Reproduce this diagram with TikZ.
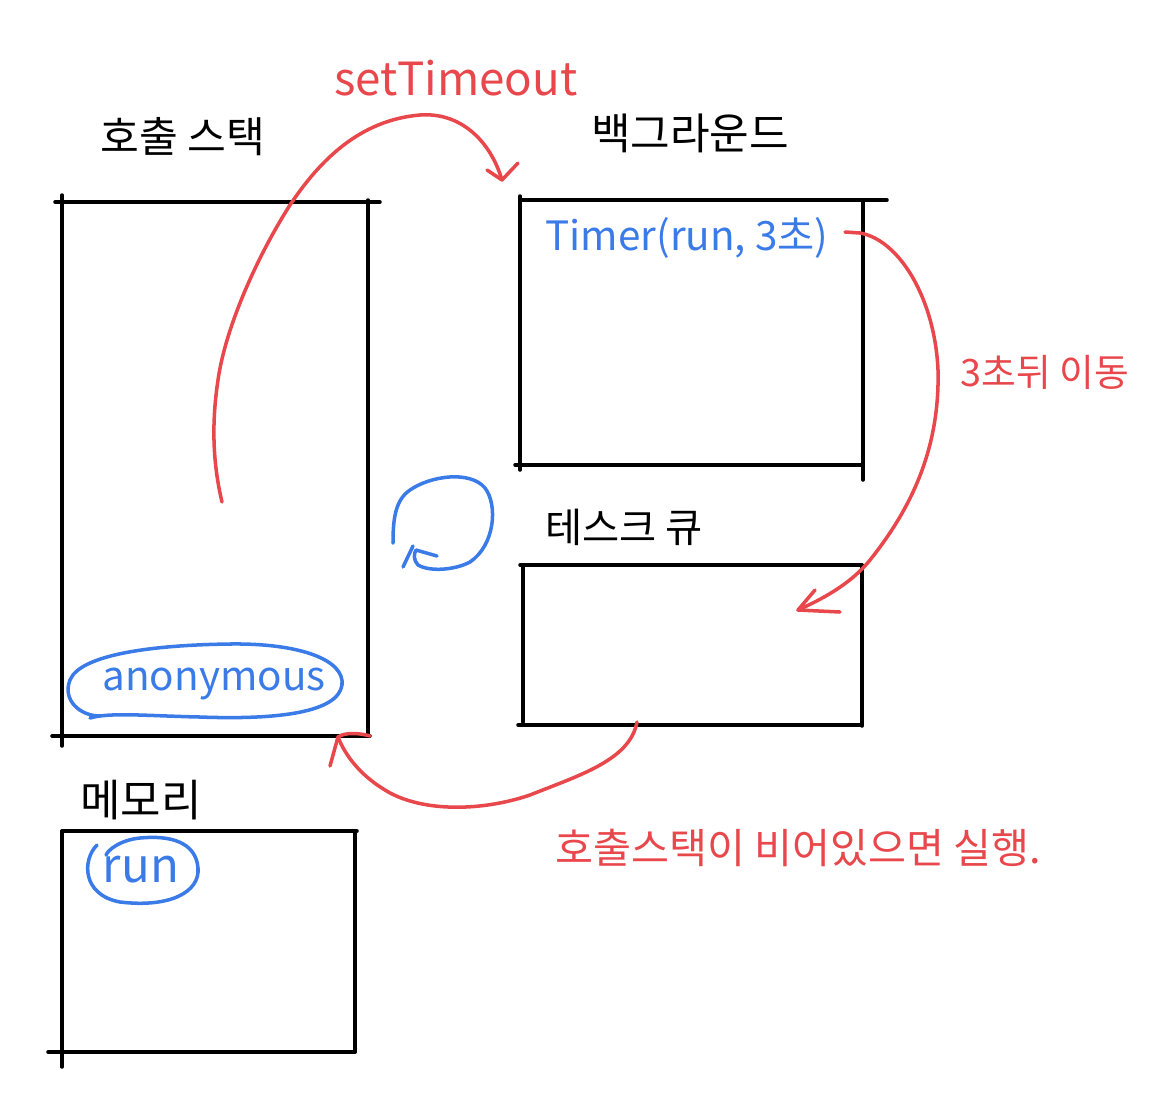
\documentclass[tikz,border=0pt]{standalone}
\usepackage{fontspec}
\setmainfont{Noto Sans CJK KR}
\begin{document}
\begin{tikzpicture}[x=0.02cm,y=-0.02cm,
  ink/.style={line width=2pt,line cap=round,line join=round},
  blk/.style={ink,black},
  redl/.style={ink,draw={rgb,255:red,232;green,71;blue,75}},
  bluel/.style={ink,draw={rgb,255:red,59;green,123;blue,232}},
  title/.style={text=black},
  rtext/.style={text={rgb,255:red,232;green,71;blue,75}},
  btext/.style={text={rgb,255:red,59;green,123;blue,232}}]
\useasboundingbox (0,0) rectangle (1170,1110);

% call stack box
\draw[blk] (55,202) -- (380,202);
\draw[blk] (62,195) -- (62,746);
\draw[blk] (368,200) -- (368,735);
\draw[blk] (52,736) -- (370,736);
\node[title,font=\fontsize{24}{28}\selectfont] (cs) at (183,137) {호출 스택};

% background box
\draw[blk] (520,200) -- (887,200);
\draw[blk] (520,196) -- (520,470);
\draw[blk] (863,202) -- (863,480);
\draw[blk] (515,465) -- (863,465);
\node[title,font=\fontsize{24.5}{28}\selectfont] (bg) at (690,133) {백그라운드};

% task queue box
\draw[blk] (520,565) -- (862,565);
\draw[blk] (523,565) -- (523,722);
\draw[blk] (862,565) -- (862,726);
\draw[blk] (518,725) -- (862,725);
\node[title,font=\fontsize{23}{27}\selectfont] (tq) at (624,527) {테스크 큐};

% memory box
\draw[blk] (62,831) -- (357,831);
\draw[blk] (62,831) -- (62,1067);
\draw[blk] (355,831) -- (355,1052);
\draw[blk] (48,1052) -- (355,1052);
\node[title,font=\fontsize{25}{29}\selectfont] (mem) at (141,800) {메모리};

% anonymous
\node[btext,font=\fontsize{23}{27}\selectfont] (anon) at (214,684) {anonymous};
\draw[bluel] (100,716) .. controls (80,716) and (62,700) .. (70,680)
  .. controls (80,655) and (150,645) .. (230,644)
  .. controls (300,643) and (345,660) .. (342,685)
  .. controls (338,712) and (280,720) .. (200,717)
  .. controls (150,716) and (110,712) .. (90,718);

% run
\node[btext,font=\fontsize{27}{31}\selectfont] (run) at (141,870) {run};
\draw[bluel] (97,845) .. controls (82,860) and (82,895) .. (120,902)
  .. controls (170,908) and (200,892) .. (198,868)
  .. controls (196,842) and (170,835) .. (140,838)
  .. controls (120,840) and (108,850) .. (106,855);

% timer
\node[btext,font=\fontsize{23}{27}\selectfont] (timer) at (687,238) {Timer(run, 3초)};

% event loop symbol
\draw[bluel] (393,543) .. controls (393,520) and (395,500) .. (410,490)
  .. controls (430,476) and (470,470) .. (485,488)
  .. controls (498,505) and (495,545) .. (470,562)
  .. controls (455,570) and (430,572) .. (418,565)
  .. controls (413,560) and (414,553) .. (416,550) -- (437,556);
\draw[bluel] (413,546) -- (403,567);

% red labels
\node[rtext,font=\fontsize{26}{30}\selectfont] (st) at (456,78) {setTimeout};
\node[rtext,font=\fontsize{21.5}{25}\selectfont] (three) at (1045,372) {3초뒤 이동};
\node[rtext,font=\fontsize{23.5}{27}\selectfont] (empty) at (798,848) {호출스택이 비어있으면 실행.};

% arrow setTimeout
\coordinate (a1s) at (222,502);
\coordinate (a1e) at (502,180);
\draw[redl] (a1s) .. controls (212,460) and (212,420) .. (218,380)
  .. controls (225,330) and (255,260) .. (290,205)
  .. controls (320,160) and (360,120) .. (420,115)
  .. controls (460,112) and (490,140) .. (a1e);
\draw[redl] (487,170) -- (a1e) -- (518,163);

% arrow 3s later
\coordinate (a2s) at (845,232);
\coordinate (a2e) at (798,610);
\draw[redl] (a2s) -- (860,233)
  .. controls (900,240) and (935,300) .. (938,370)
  .. controls (940,450) and (910,510) .. (870,560)
  .. controls (850,585) and (820,600) .. (a2e);
\draw[redl] (815,590) -- (a2e) -- (840,612);

% arrow run when empty
\coordinate (a3s) at (637,722);
\coordinate (a3e) at (338,737);
\draw[redl] (a3s) .. controls (630,760) and (580,775) .. (530,795)
  .. controls (480,812) and (420,812) .. (385,790)
  .. controls (360,775) and (345,755) .. (a3e);
\draw[redl] (330,766) -- (a3e) .. controls (345,732) and (360,733) .. (370,736);
\end{tikzpicture}
\end{document}
